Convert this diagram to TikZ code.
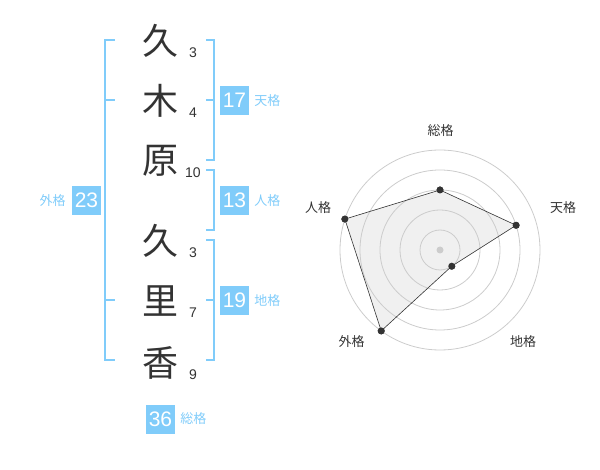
\documentclass[tikz,border=0pt]{standalone}
\usepackage{fontspec}
\setmainfont{Liberation Sans}
\newfontfamily\cjk{Noto Sans CJK JP}
\usepackage{xcolor}
\usepackage{tikz}
\usetikzlibrary{positioning}
\definecolor{SkyBlue}{RGB}{128,204,250}
\definecolor{InkGray}{RGB}{51,51,51}
\definecolor{RingGray}{RGB}{204,204,204}
\definecolor{FillGray}{RGB}{240,240,240}
\tikzset{
    Kanji/.style = {font=\cjk\fontsize{36}{36}\selectfont,text=InkGray,inner sep=0pt},
    StrokeNum/.style = {font=\fontsize{14}{14}\selectfont,text=InkGray,inner sep=0pt},
    ScoreBox/.style = {fill=SkyBlue,text=white,minimum size=29pt,inner sep=0pt,font=\fontsize{21}{21}\selectfont},
    ScoreName/.style = {text=SkyBlue,font=\cjk\fontsize{13}{13}\selectfont,inner sep=0pt},
    Bracket/.style = {draw=SkyBlue,line width=2pt},
    Dot/.style = {fill=InkGray,circle,inner sep=0pt,minimum size=7pt},
    AxisName/.style = {font=\cjk\fontsize{13}{13}\selectfont,text=InkGray,inner sep=0pt}
}
\begin{document}
\begin{tikzpicture}[x=1pt,y=-1pt]
    \useasboundingbox (0,0) rectangle (600,470);
    % name and stroke counts
    \foreach \ch/\y/\n [count=\i] in {久/40/3,木/100/4,原/160/10,久/240/3,里/300/7,香/362/9}
        {\node[Kanji] (c\i) at (160,\y+1) {\ch};
        \node[StrokeNum] (n\i) at (193,\y+13) {\n};}
    % brackets
    \draw[Bracket] (115,40) -- (105,40) -- (105,360) -- (115,360);
    \draw[Bracket] (105,100) -- (115,100);
    \draw[Bracket] (105,300) -- (115,300);
    \draw[Bracket] (206,40) -- (214,40) -- (214,160) -- (206,160);
    \draw[Bracket] (206,100) -- (214,100);
    \draw[Bracket] (206,170) -- (214,170) -- (214,230) -- (206,230);
    \draw[Bracket] (206,240) -- (214,240) -- (214,360) -- (206,360);
    \draw[Bracket] (206,300) -- (214,300);
    % scores
    \node[ScoreBox] (ten) at (234.5,100.5) {17};
    \node[ScoreName,right=5pt of ten] (tenName) {天格};
    \node[ScoreBox] (jin) at (234.5,200.5) {13};
    \node[ScoreName,right=5pt of jin] (jinName) {人格};
    \node[ScoreBox] (chi) at (234.5,300.5) {19};
    \node[ScoreName,right=5pt of chi] (chiName) {地格};
    \node[ScoreBox] (gai) at (86.5,200.5) {23};
    \node[ScoreName,left=6pt of gai] (gaiName) {外格};
    \node[ScoreBox] (sou) at (160.5,419) {36};
    \node[ScoreName,right=5pt of sou] (souName) {総格};
    % radar chart
    \begin{scope}[shift={(440,250)},y=1pt]
        \node[circle,fill=RingGray,inner sep=0pt,minimum size=7pt] (O) at (0,0) {};
        \node[Dot] (p1) at (90:60) {};
        \node[Dot] (p2) at (18:80) {};
        \node[Dot] (p3) at (-54:20) {};
        \node[Dot] (p4) at (-126:100) {};
        \node[Dot] (p5) at (162:100) {};
        \fill[FillGray] (p1.center) -- (p2.center) -- (p3.center) -- (p4.center) -- (p5.center) -- cycle;
        \foreach \r in {20,40,60,80,100}
            {\draw[RingGray,line width=0.8pt] (0,0) circle (\r);}
        \draw[InkGray,line width=0.6pt] (p1.center) -- (p2.center) -- (p3.center) -- (p4.center) -- (p5.center) -- cycle;
        \foreach \p in {1,...,5}
            {\node[Dot] at (p\p) {};}
        \node[Dot,fill=RingGray] at (O) {};
        \node[AxisName] (a1) at (0.7,119.3) {総格};
        \node[AxisName] (a2) at (123,42) {天格};
        \node[AxisName] (a3) at (83,-91.7) {地格};
        \node[AxisName] (a4) at (-88.3,-91.7) {外格};
        \node[AxisName] (a5) at (-122,42) {人格};
    \end{scope}
\end{tikzpicture}
\end{document}
